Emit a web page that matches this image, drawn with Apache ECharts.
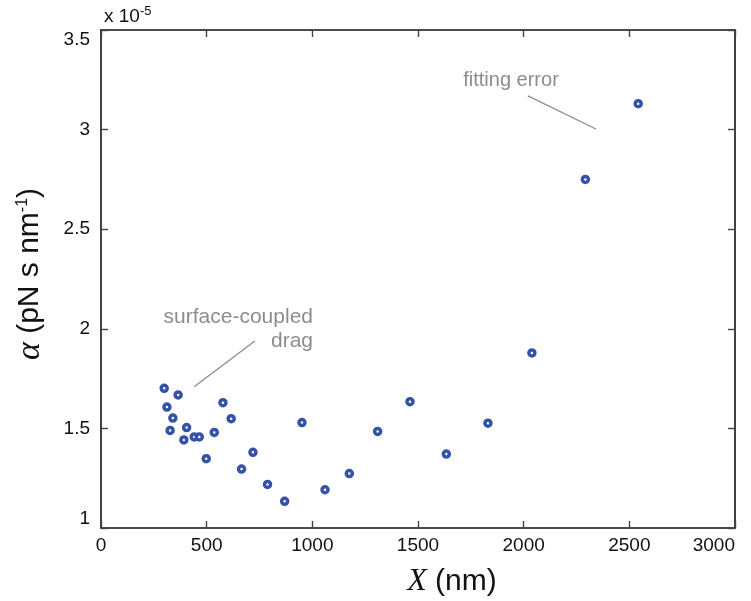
<!DOCTYPE html>
<html>
<head>
<meta charset="utf-8">
<script src="https://cdn.jsdelivr.net/npm/echarts@6/dist/echarts.min.js"></script>
<style>html,body{margin:0;padding:0;background:#fff}#c{width:751px;height:601px}</style>
</head>
<body>
<div id="c"></div>
<script>
// X position (nm)
var xValues = [299, 312, 327, 340, 365, 392, 405, 441, 465, 498, 536, 577, 616, 665, 719, 788, 869, 951, 1060, 1175, 1309, 1462, 1634, 1831, 2039, 2292, 2542];
// alpha (pN s nm^-1), in units of 1e-5
var alphaValues = [1.701, 1.607, 1.490, 1.552, 1.668, 1.442, 1.504, 1.457, 1.457, 1.348, 1.480, 1.629, 1.549, 1.296, 1.380, 1.219, 1.134, 1.529, 1.192, 1.273, 1.485, 1.634, 1.371, 1.526, 1.879, 2.750, 3.130];
var xTicks = [0, 500, 1000, 1500, 2000, 2500, 3000];
var yTicks = [1, 1.5, 2, 2.5, 3, 3.5];
// annotation pointers (data coords)
var fitLine = [[2020, 3.169], [2342, 3.003]];
var dragLine = [[728, 1.939], [441, 1.709]];

var points = xValues.map(function (x, i) { return [x, alphaValues[i]]; });
var chart = echarts.init(document.getElementById('c'), null, {renderer: 'canvas'});
var FONT = '"Liberation Sans", Arial, Helvetica, sans-serif';
var SERIF = '"Liberation Serif", "Times New Roman", serif';
var axisLineStyle = {color: '#111', width: 1.6};
var tickStyle = {show: true, inside: true, length: 7, lineStyle: {color: '#444', width: 1.4}};
var grid = {left: 101, right: 16, top: 30, bottom: 73};

chart.setOption({
  animation: false,
  backgroundColor: '#fff',
  grid: grid,
  xAxis: [{
    type: 'value', position: 'bottom', min: xTicks[0], max: xTicks[xTicks.length - 1], interval: 500,
    axisLine: {show: true, onZero: false, lineStyle: axisLineStyle},
    axisTick: tickStyle,
    axisLabel: {color: '#111', fontSize: 19, fontFamily: FONT, margin: 8, alignMaxLabel: 'right',
      formatter: function (v) { return String(v); }},
    splitLine: {show: false}
  }, {
    type: 'value', position: 'top', min: xTicks[0], max: xTicks[xTicks.length - 1], interval: 500,
    axisLine: {show: true, onZero: false, lineStyle: axisLineStyle},
    axisTick: tickStyle,
    axisLabel: {show: false}, splitLine: {show: false}
  }],
  yAxis: [{
    type: 'value', position: 'left', min: yTicks[0], max: yTicks[yTicks.length - 1], interval: 0.5,
    axisLine: {show: true, onZero: false, lineStyle: axisLineStyle},
    axisTick: tickStyle,
    axisLabel: {color: '#111', fontSize: 19, fontFamily: FONT, margin: 11,
      verticalAlignMaxLabel: 'top', verticalAlignMinLabel: 'bottom',
      formatter: function (v) { return String(v); }},
    splitLine: {show: false}
  }, {
    type: 'value', position: 'right', min: yTicks[0], max: yTicks[yTicks.length - 1], interval: 0.5,
    axisLine: {show: true, onZero: false, lineStyle: axisLineStyle},
    axisTick: tickStyle,
    axisLabel: {show: false}, splitLine: {show: false}
  }],
  series: [{
    type: 'scatter',
    data: points,
    symbol: 'circle',
    symbolSize: 6,
    itemStyle: {color: '#ffffff', borderColor: '#3553a6', borderWidth: 3.5, opacity: 1},
    markLine: {
      silent: true, symbol: ['none', 'none'], animation: false,
      label: {show: false},
      lineStyle: {color: '#8c8c8c', width: 1.3, type: 'solid'},
      data: [
        [{coord: fitLine[0]}, {coord: fitLine[1]}],
        [{coord: dragLine[0]}, {coord: dragLine[1]}]
      ]
    }
  }],
  graphic: [
    {type: 'text', left: 104, top: 5, style: {
      text: 'x 10{s|-5}', fontSize: 19, fontFamily: FONT, fill: '#111',
      rich: {s: {fontSize: 13, fontFamily: FONT, padding: [0, 0, 11, 0], fill: '#111'}}
    }},
    {type: 'text', x: 511, y: 80, style: {
      text: 'fitting error', fontSize: 20, fontFamily: FONT, fill: '#8c8c8c',
      align: 'center', verticalAlign: 'middle'
    }},
    {type: 'text', x: 313, y: 317, style: {
      text: 'surface-coupled', fontSize: 21, fontFamily: FONT, fill: '#8c8c8c',
      align: 'right', verticalAlign: 'middle'
    }},
    {type: 'text', x: 313, y: 341, style: {
      text: 'drag', fontSize: 21, fontFamily: FONT, fill: '#8c8c8c',
      align: 'right', verticalAlign: 'middle'
    }},
    {type: 'text', x: 452, y: 582, style: {
      text: '{i|X} (nm)', fontSize: 30, fontFamily: FONT, fill: '#111',
      align: 'center', verticalAlign: 'middle',
      rich: {i: {fontSize: 32, fontFamily: SERIF, fontStyle: 'italic', fill: '#111'}}
    }},
    {type: 'text', x: 30, y: 274, rotation: Math.PI / 2, style: {
      text: '{a|α} (pN s nm{s|-1})', fontSize: 30, fontFamily: FONT, fill: '#111',
      align: 'center', verticalAlign: 'middle',
      rich: {
        a: {fontSize: 34, fontFamily: SERIF, fontStyle: 'italic', fill: '#111'},
        s: {fontSize: 16, fontFamily: FONT, padding: [0, 0, 15, 0], fill: '#111'}
      }
    }}
  ]
});
</script>
</body>
</html>
